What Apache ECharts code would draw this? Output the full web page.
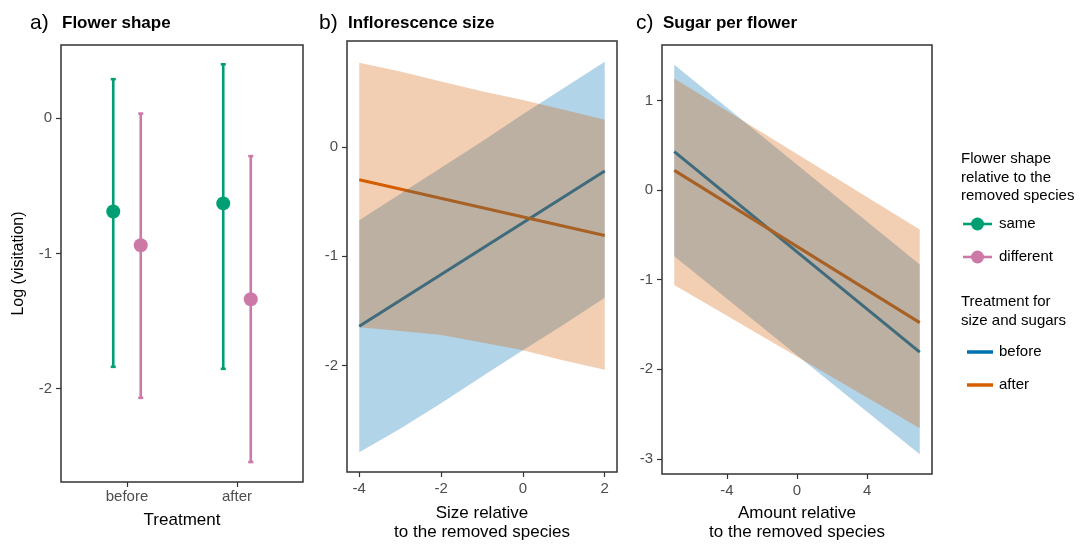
<!DOCTYPE html>
<html>
<head>
<meta charset="utf-8">
<script src="https://cdn.jsdelivr.net/npm/echarts@6/dist/echarts.min.js"></script>
<style>
  html, body { margin: 0; padding: 0; background: #fff; }
  #main { width: 1089px; height: 547px; }
</style>
</head>
<body>
<div id="main"></div>
<script>
// a) flower shape: mean and 95% interval per treatment
var treatments = ['before', 'after'];
var sameMean = [-0.69, -0.63];
var sameLow = [-1.84, -1.855];
var sameHigh = [0.29, 0.40];
var diffMean = [-0.94, -1.34];
var diffLow = [-2.07, -2.545];
var diffHigh = [0.035, -0.28];

// b) inflorescence size
var sizeEnds = [-4, 2];
var sizeBeforeFit = [-1.64, -0.22];
var sizeAfterFit = [-0.30, -0.81];
var sizeX = [-4, -3, -2, -1, 0, 1, 2];
var sizeBeforeLow = [-2.795, -2.58, -2.345, -2.10, -1.86, -1.625, -1.38];
var sizeBeforeHigh = [-0.67, -0.43, -0.19, 0.05, 0.30, 0.54, 0.78];
var sizeAfterLow = [-1.65, -1.685, -1.72, -1.79, -1.86, -1.955, -2.04];
var sizeAfterHigh = [0.77, 0.69, 0.60, 0.51, 0.43, 0.34, 0.25];

// c) sugar per flower
var amountX = [-7, 7];
var sugarBeforeFit = [0.43, -1.81];
var sugarAfterFit = [0.22, -1.48];
var sugarBeforeLow = [-0.74, -2.95];
var sugarBeforeHigh = [1.40, -0.83];
var sugarAfterLow = [-1.06, -2.66];
var sugarAfterHigh = [1.245, -0.44];

var GREEN = '#009E73', PINK = '#CC79A7', BLUE = '#0072B2', ORANGE = '#D55E00';
var FONT = 'Liberation Sans, Arial, sans-serif';
var dodge = 0.125;

var chart = echarts.init(document.getElementById('main'));

function errorBars(low, high, shift, color) {
  return {
    type: 'custom', xAxisIndex: 0, yAxisIndex: 0, z: 2, silent: true,
    itemStyle: { color: color },
    data: treatments.map(function (t, i) { return [i + 1 + shift, low[i], high[i]]; }),
    renderItem: function (params, api) {
      var x = api.value(0);
      var lo = api.coord([x, api.value(1)]);
      var hi = api.coord([x, api.value(2)]);
      var cap = 2.5;
      var st = { stroke: color, lineWidth: 2.6 };
      return {
        type: 'group', children: [
          { type: 'line', shape: { x1: lo[0], y1: lo[1], x2: hi[0], y2: hi[1] }, style: st },
          { type: 'line', shape: { x1: lo[0] - cap, y1: lo[1], x2: lo[0] + cap, y2: lo[1] }, style: st },
          { type: 'line', shape: { x1: hi[0] - cap, y1: hi[1], x2: hi[0] + cap, y2: hi[1] }, style: st }
        ]
      };
    }
  };
}

function points(mean, shift, color) {
  return {
    type: 'scatter', xAxisIndex: 0, yAxisIndex: 0, z: 3, silent: true,
    symbolSize: 14, itemStyle: { color: color, opacity: 1 },
    data: treatments.map(function (t, i) { return [i + 1 + shift, mean[i]]; })
  };
}

function fitLine(idx, xs, ys, color) {
  return {
    type: 'line', xAxisIndex: idx, yAxisIndex: idx, z: 2, silent: true,
    showSymbol: false, lineStyle: { color: color, width: 3 },
    data: xs.map(function (x, i) { return [x, ys[i]]; })
  };
}

function ribbon(idx, xs, lo, hi, fill, z) {
  return {
    type: 'custom', xAxisIndex: idx, yAxisIndex: idx, z: z, silent: true,
    data: [[xs[0], lo[0]]],
    renderItem: function (params, api) {
      var pts = [];
      for (var i = 0; i < xs.length; i++) pts.push(api.coord([xs[i], hi[i]]));
      for (var j = xs.length - 1; j >= 0; j--) pts.push(api.coord([xs[j], lo[j]]));
      return { type: 'polygon', shape: { points: pts }, style: { fill: fill } };
    }
  };
}

function xAxis(idx, min, max, ticks, name, gap, margin, fmt) {
  return {
    gridIndex: idx, type: 'value', min: min, max: max,
    splitLine: { show: false },
    axisLine: { show: false, onZero: false },
    axisTick: { show: true, length: 5, customValues: ticks, lineStyle: { color: '#333', width: 1.2 } },
    axisLabel: { customValues: ticks, color: '#4d4d4d', fontSize: 15, fontFamily: FONT, margin: margin,
      formatter: fmt || function (v) { return String(v); } },
    name: name, nameLocation: 'middle', nameGap: gap,
    nameTextStyle: { color: '#000', fontSize: 17, fontFamily: FONT, lineHeight: 19 }
  };
}

function yAxis(idx, min, max, ticks, name) {
  return {
    gridIndex: idx, type: 'value', min: min, max: max,
    splitLine: { show: false },
    axisLine: { show: false, onZero: false },
    axisTick: { show: true, length: 5, customValues: ticks, lineStyle: { color: '#333', width: 1.2 } },
    axisLabel: { customValues: ticks, color: '#4d4d4d', fontSize: 15, fontFamily: FONT, margin: 9,
      formatter: function (v) { return String(v); } },
    name: name || '', nameLocation: 'middle', nameGap: 34,
    nameTextStyle: { color: '#000', fontSize: 16, fontFamily: FONT }
  };
}

function panelTitle(letterX, textX, letter, text) {
  return [
    { type: 'text', left: letterX, top: 13, style: { text: letter, font: '21px ' + FONT, fill: '#000' } },
    { type: 'text', left: textX, top: 15, style: { text: text, font: 'bold 17px ' + FONT, fill: '#000' } }
  ];
}

function legendText(x, y, text) {
  return { type: 'text', left: x, top: y, style: { text: text, font: '15px ' + FONT, fill: '#000', lineHeight: 18.5 } };
}

var legendGraphics = [
  legendText(961, 150, 'Flower shape\nrelative to the\nremoved species'),
  { type: 'line', shape: { x1: 963, y1: 224, x2: 992, y2: 224 }, style: { stroke: GREEN, lineWidth: 2.6 } },
  { type: 'circle', shape: { cx: 977.5, cy: 224, r: 6.5 }, style: { fill: GREEN } },
  legendText(999, 215, 'same'),
  { type: 'line', shape: { x1: 963, y1: 257, x2: 992, y2: 257 }, style: { stroke: PINK, lineWidth: 2.6 } },
  { type: 'circle', shape: { cx: 977.5, cy: 257, r: 6.5 }, style: { fill: PINK } },
  legendText(999, 248, 'different'),
  legendText(961, 293, 'Treatment for\nsize and sugars'),
  { type: 'line', shape: { x1: 967, y1: 352, x2: 993, y2: 352 }, style: { stroke: BLUE, lineWidth: 3.5 } },
  legendText(999, 343, 'before'),
  { type: 'line', shape: { x1: 967, y1: 385, x2: 993, y2: 385 }, style: { stroke: ORANGE, lineWidth: 3.5 } },
  legendText(999, 376, 'after')
];

var gridStyle = { show: true, borderColor: '#333', borderWidth: 1.5, backgroundColor: 'transparent' };

chart.setOption({
  animation: false,
  backgroundColor: '#fff',
  grid: [
    Object.assign({ left: 61, top: 45, width: 242, height: 437 }, gridStyle),
    Object.assign({ left: 347, top: 41, width: 270, height: 434 }, gridStyle),
    Object.assign({ left: 662, top: 45, width: 270, height: 432 }, gridStyle)
  ],
  xAxis: [
    xAxis(0, 0.4, 2.6, [1, 2], 'Treatment', 29, 7, function (v) { return treatments[Math.round(v) - 1]; }),
    xAxis(1, -4.3, 2.3, [-4, -2, 0, 2], 'Size relative\nto the removed species', 32, 9),
    xAxis(2, -7.7, 7.7, [-4, 0, 4], 'Amount relative\nto the removed species', 30, 9)
  ],
  yAxis: [
    yAxis(0, -2.693, 0.543, [-2, -1, 0], 'Log (visitation)'),
    yAxis(1, -2.975, 0.97, [-2, -1, 0]),
    yAxis(2, -3.17, 1.62, [-3, -2, -1, 0, 1])
  ],
  graphic: []
    .concat(panelTitle(30, 62, 'a)', 'Flower shape'))
    .concat(panelTitle(319, 348, 'b)', 'Inflorescence size'))
    .concat(panelTitle(636, 663, 'c)', 'Sugar per flower'))
    .concat(legendGraphics),
  series: [
    errorBars(sameLow, sameHigh, -dodge, GREEN),
    errorBars(diffLow, diffHigh, dodge, PINK),
    points(sameMean, -dodge, GREEN),
    points(diffMean, dodge, PINK),

    fitLine(1, sizeEnds, sizeBeforeFit, BLUE),
    fitLine(1, sizeEnds, sizeAfterFit, ORANGE),
    ribbon(1, sizeX, sizeBeforeLow, sizeBeforeHigh, 'rgba(0,114,178,0.3)', 3),
    ribbon(1, sizeX, sizeAfterLow, sizeAfterHigh, 'rgba(213,94,0,0.3)', 4),

    fitLine(2, amountX, sugarBeforeFit, BLUE),
    fitLine(2, amountX, sugarAfterFit, ORANGE),
    ribbon(2, amountX, sugarBeforeLow, sugarBeforeHigh, 'rgba(0,114,178,0.3)', 3),
    ribbon(2, amountX, sugarAfterLow, sugarAfterHigh, 'rgba(213,94,0,0.3)', 4)
  ]
});
</script>
</body>
</html>
